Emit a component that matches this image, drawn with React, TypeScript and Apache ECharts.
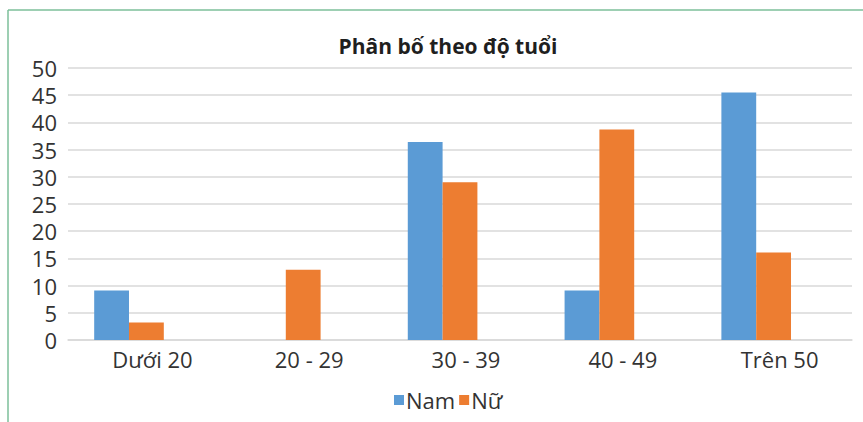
import React, { useEffect, useRef } from "react";
import * as echarts from "echarts";

const categories = ["Dưới 20", "20 - 29", "30 - 39", "40 - 49", "Trên 50"];
const namValues = [9.1, 0, 36.4, 9.1, 45.5];
const nuValues = [3.2, 12.9, 29.0, 38.7, 16.1];
const emptyValues = [null, null, null, null, null];
const seriesNames = ["Nam", "Nữ"];
const titleText = "Phân bố theo độ tuổi";

const FONT = "'Open Sans', 'Noto Sans', sans-serif";

export default function App() {
  const ref = useRef<HTMLDivElement>(null);
  useEffect(() => {
    if (!ref.current) return;
    const chart = echarts.init(ref.current, null, { renderer: "svg" });
    chart.setOption({
      animation: false,
      backgroundColor: "#ffffff",
      textStyle: { fontFamily: FONT },
      title: {
        text: titleText,
        left: 443,
        top: 30,
        textAlign: "center",
        textStyle: { fontFamily: FONT, fontSize: 21, fontWeight: "bold", color: "#1f1f1f" },
      },
      legend: {
        data: seriesNames,
        left: 394,
        top: 389,
        itemWidth: 10,
        itemHeight: 10,
        itemGap: 4,
        icon: "rect",
        padding: 0,
        textStyle: { fontFamily: FONT, fontSize: 22, color: "#333", padding: [0, 0, 0, -3] },
      },
      grid: { left: 68, right: 11, top: 68, bottom: 82, containLabel: false },
      xAxis: {
        type: "category",
        data: categories,
        axisTick: { show: false },
        axisLine: { lineStyle: { color: "#d9d9d9", width: 1.5 } },
        axisLabel: { fontFamily: FONT, fontSize: 22, color: "#333", margin: 8, padding: [0, 0, 0, 12] },
      },
      yAxis: {
        type: "value",
        min: 0,
        max: 50,
        interval: 5,
        axisLine: { show: false },
        axisTick: { show: false },
        splitLine: { lineStyle: { color: "#d9d9d9", width: 1.5 } },
        axisLabel: { fontFamily: FONT, fontSize: 22, color: "#333", margin: 11 },
      },
      graphic: [
        { type: "line", shape: { x1: 8, y1: 10, x2: 8, y2: 422 }, style: { stroke: "#7dbf9a", lineWidth: 1.5 } },
        { type: "line", shape: { x1: 8, y1: 10, x2: 863, y2: 10 }, style: { stroke: "#7dbf9a", lineWidth: 1.5 } },
      ],
      series: [
        { name: "Nam", type: "bar", data: namValues, barGap: "0%", barCategoryGap: "33.4%", itemStyle: { color: "#5b9bd5" } },
        { name: "Nữ", type: "bar", data: nuValues, barGap: "0%", barCategoryGap: "33.4%", itemStyle: { color: "#ed7d31" } },
        { name: "_empty", type: "bar", data: emptyValues, barGap: "0%", barCategoryGap: "33.4%", itemStyle: { color: "#a5a5a5" } },
      ],
    });
    return () => chart.dispose();
  }, []);
  return <div ref={ref} style={{ position: "fixed", left: 0, top: 0, width: 863, height: 422 }} />;
}
